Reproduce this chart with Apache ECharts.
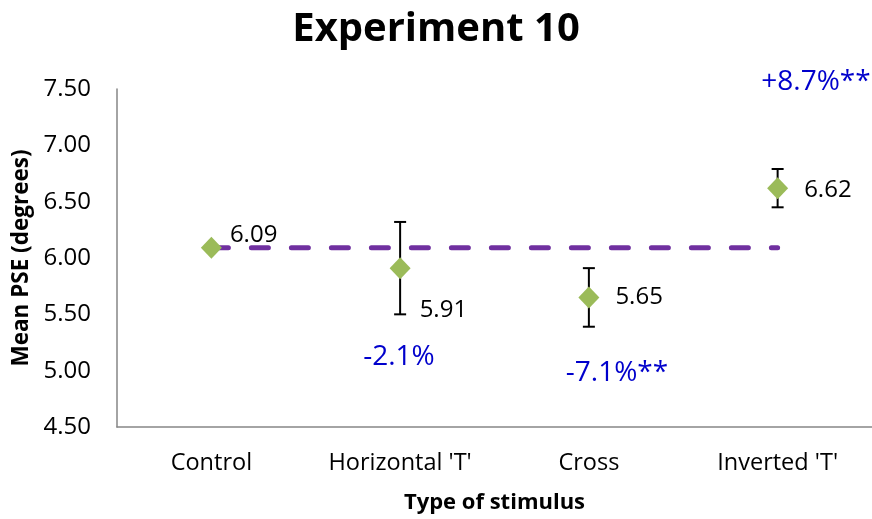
<!DOCTYPE html>
<html>
<head>
<meta charset="utf-8">
<script src="https://cdn.jsdelivr.net/npm/echarts@6/dist/echarts.min.js"></script>
<style>
  html, body { margin: 0; padding: 0; background: #fff; }
  #chart { width: 872px; height: 519px; }
</style>
</head>
<body>
<div id="chart"></div>
<script>
// Stimulus conditions and measured mean PSE (degrees)
const categories = ['Control', "Horizontal 'T'", 'Cross', "Inverted 'T'"];
const meanPSE = [6.09, 5.91, 5.65, 6.62];
// Half-length of each error bar (degrees)
const errorHalf = [0, 0.41, 0.26, 0.17];
// Control level drawn across all conditions as the reference line
const controlLine = [6.09, 6.09, 6.09, 6.09];
// Percentage change relative to control
const changeLabels = ['', '-2.1%', '-7.1%**', '+8.7%**'];
const yTicks = { min: 4.5, max: 7.5, interval: 0.5 };

const FONT = 'Open Sans';
const chart = echarts.init(document.getElementById('chart'));

// Where each value label sits relative to its diamond
const labelPlacement = [
  { distance: 8, offset: [0, -13] },
  { distance: 9, offset: [0, 42] },
  { distance: 16, offset: [0, 0] },
  { distance: 16, offset: [0, 2] }
];

const pointData = meanPSE.map((v, i) => ({
  value: [categories[i], v],
  label: {
    show: true,
    position: 'right',
    distance: labelPlacement[i].distance,
    offset: labelPlacement[i].offset,
    formatter: () => v.toFixed(2)
  }
}));

const errorData = meanPSE.map((v, i) => [i, v - errorHalf[i], v + errorHalf[i]]);

const blue = '#0000CC';
const noteFont = '28px "' + FONT + '"';

chart.setOption({
  animation: false,
  backgroundColor: '#ffffff',
  textStyle: { fontFamily: FONT },
  title: {
    text: 'Experiment 10',
    left: 'center',
    top: 5,
    textStyle: { fontFamily: FONT, fontSize: 40, fontWeight: 'bold', color: '#000' }
  },
  grid: { left: 117, top: 89, width: 758, height: 340 },
  xAxis: {
    type: 'category',
    data: categories,
    boundaryGap: true,
    axisLine: { lineStyle: { color: '#868686', width: 1.5 } },
    axisTick: { show: false },
    axisLabel: { color: '#000', fontSize: 23.5, margin: 24 },
    name: 'Type of stimulus',
    nameLocation: 'middle',
    nameGap: 65,
    nameTextStyle: { color: '#000', fontSize: 22, fontWeight: 'bold' }
  },
  yAxis: {
    type: 'value',
    min: yTicks.min,
    max: yTicks.max,
    interval: yTicks.interval,
    axisLine: { show: true, lineStyle: { color: '#868686', width: 1.5 } },
    axisTick: { show: false },
    splitLine: { show: false },
    axisLabel: { color: '#000', fontSize: 24, margin: 26, formatter: v => v.toFixed(2) },
    name: 'Mean PSE (degrees)',
    nameLocation: 'middle',
    nameGap: 84,
    nameRotate: 90,
    nameTextStyle: { color: '#000', fontSize: 22.5, fontWeight: 'bold' }
  },
  series: [
    {
      name: 'Control level',
      type: 'line',
      data: controlLine,
      symbol: 'none',
      lineStyle: { color: '#7030A0', width: 5, type: [17, 23], cap: 'round' },
      z: 2
    },
    {
      name: 'Error',
      type: 'custom',
      data: errorData,
      renderItem: (params, api) => {
        if (api.value(2) - api.value(1) <= 0) return null;
        const lo = api.coord([api.value(0), api.value(1)]);
        const hi = api.coord([api.value(0), api.value(2)]);
        const cap = 6;
        const style = { stroke: '#000', lineWidth: 2 };
        return {
          type: 'group',
          children: [
            { type: 'line', shape: { x1: lo[0], y1: lo[1], x2: hi[0], y2: hi[1] }, style },
            { type: 'line', shape: { x1: lo[0] - cap, y1: lo[1], x2: lo[0] + cap, y2: lo[1] }, style },
            { type: 'line', shape: { x1: hi[0] - cap, y1: hi[1], x2: hi[0] + cap, y2: hi[1] }, style }
          ]
        };
      },
      z: 3
    },
    {
      name: 'Mean PSE',
      type: 'scatter',
      data: pointData,
      symbol: 'diamond',
      symbolSize: [21, 22],
      itemStyle: { color: '#9BBB59', opacity: 1 },
      label: { color: '#000', fontSize: 24, fontFamily: FONT },
      z: 4
    }
  ],
  graphic: [
    { type: 'text', x: 399, y: 357, style: { text: changeLabels[1], fill: blue, font: noteFont, align: 'center', verticalAlign: 'middle' } },
    { type: 'text', x: 617, y: 373, style: { text: changeLabels[2], fill: blue, font: noteFont, align: 'center', verticalAlign: 'middle' } },
    { type: 'text', x: 816, y: 82, style: { text: changeLabels[3], fill: blue, font: noteFont, align: 'center', verticalAlign: 'middle' } }
  ]
});
</script>
</body>
</html>
